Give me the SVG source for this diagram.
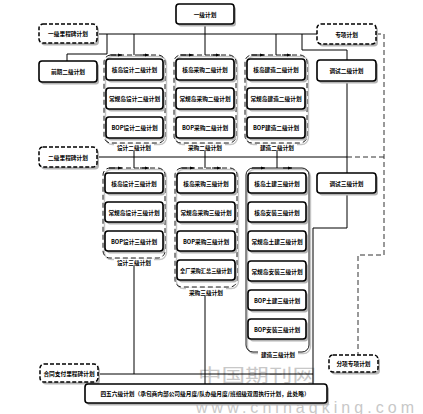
<svg xmlns="http://www.w3.org/2000/svg" width="423" height="414" viewBox="0 0 423 414">
<defs>
<style>
.sh{fill:#b4b4b4;stroke:none}
.box{fill:#fff;stroke:#000;stroke-width:1.6}
.dbox{fill:#fff;stroke:#000;stroke-width:1.5;stroke-dasharray:4 2}
.grp{fill:none;stroke:#000;stroke-width:0.9;stroke-dasharray:5 3}
.grpsh{fill:none;stroke:#c4c4c4;stroke-width:1.4}
.sgrp{fill:none;stroke:#000;stroke-width:0.9}
.ln{fill:none;stroke:#000;stroke-width:1}
.dln{fill:none;stroke:#333;stroke-width:1;stroke-dasharray:5 3}
text{font-family:"Noto Sans CJK SC","Noto Sans CJK JP",sans-serif;font-size:5.7px;font-weight:bold;fill:#000;text-anchor:middle;dominant-baseline:central}
.wm{font-weight:normal;fill:#c8c8c8;stroke:none;dominant-baseline:alphabetic;text-anchor:start}
</style>
<marker id="ar" viewBox="0 0 4 4" refX="4" refY="2" markerWidth="4" markerHeight="4" orient="auto" markerUnits="userSpaceOnUse">
<path d="M0,0.5 L4,2 L0,3.5 z" fill="#000"/>
</marker>
</defs>
<rect width="423" height="414" fill="#fff"/>

<!-- watermark -->
<g id="watermark">
<text class="wm" x="198" y="382" style="font-size:18px" textLength="118" lengthAdjust="spacingAndGlyphs">中国期刊网</text>
<text class="wm" x="196" y="412.5" style="font-family:'Liberation Sans',sans-serif;font-size:16px" textLength="218" lengthAdjust="spacing">www.chinaqking.com</text>
</g>

<!-- connectors -->
<g id="connectors">
<path class="ln" d="M97,34 H317"/>
<path class="ln" d="M205,24 V55"/>
<path class="ln" d="M134,34 V55"/>
<path class="ln" d="M276,34 V55"/>
<path class="ln" d="M107,34 V54 H67 V61"/>
<path class="ln" d="M302,34 V50 H347 V60"/>
<path class="dln" d="M376,34 H384 V255 H358 V355"/>
<path class="ln" d="M97,157 H347"/>
<path class="dln" d="M347,157 H384"/>
<path class="ln" d="M347,81 V173"/>
<path class="ln" d="M134,151 V168"/>
<path class="ln" d="M205,151 V168"/>
<path class="ln" d="M277,151 V168"/>
<path class="ln" d="M347,193 V228 H313 V384"/>
<path class="ln" d="M98,374 H313"/>
<path class="ln" d="M134,266 V374"/>
<path class="ln" d="M205,296 V384"/>
</g>

<!-- level 1 -->
<g id="n-l1">
<rect class="sh" x="178" y="6.5" width="58" height="20" rx="3"/>
<rect class="box" x="176" y="4" width="58" height="20" rx="3"/>
<text x="205" y="14">一级计划</text>
</g>
<g id="n-ms1">
<rect class="sh" x="41" y="26.5" width="58" height="19" rx="4"/>
<rect class="dbox" x="39" y="24" width="58" height="19" rx="4"/>
<text x="68" y="33.5">一级里程碑计划</text>
</g>
<g id="n-special">
<rect class="sh" x="319" y="26.5" width="59" height="20" rx="4"/>
<rect class="dbox" x="317" y="24" width="59" height="20" rx="4"/>
<text x="346.5" y="34">专项计划</text>
</g>
<g id="n-pre2">
<rect class="sh" x="41" y="63.5" width="58" height="21" rx="3"/>
<rect class="box" x="39" y="61" width="58" height="21" rx="3"/>
<text x="68" y="71.5">前期二级计划</text>
</g>
<g id="n-com2">
<rect class="sh" x="319" y="62.5" width="59" height="21" rx="3"/>
<rect class="box" x="317" y="60" width="59" height="21" rx="3"/>
<text x="346.5" y="70.5">调试二级计划</text>
</g>

<!-- level 2 groups -->
<g id="g-design2">
<rect class="grpsh" x="105.5" y="56.5" width="61" height="88" rx="7"/>
<rect class="grp" x="104" y="55" width="61" height="88" rx="7"/>
<path class="ln" d="M110,55 H122" marker-end="url(#ar)"/><path class="ln" d="M140,55 H149" marker-end="url(#ar)"/>
<rect class="sh" x="108" y="61.5" width="57" height="21" rx="3"/><rect class="box" x="106" y="59" width="57" height="21" rx="3"/><text x="134.5" y="69.5">核岛设计二级计划</text>
<rect class="sh" x="108" y="90.5" width="57" height="21" rx="3"/><rect class="box" x="106" y="88" width="57" height="21" rx="3"/><text x="134.5" y="98.5">常规岛设计二级计划</text>
<rect class="sh" x="108" y="119.5" width="57" height="21" rx="3"/><rect class="box" x="106" y="117" width="57" height="21" rx="3"/><text x="134.5" y="127.5">BOP设计二级计划</text>
<rect x="114" y="144" width="40" height="7" fill="#fff"/>
<text x="134" y="147.5">设计二级计划</text>
</g>
<g id="g-proc2">
<rect class="grpsh" x="175.5" y="56.5" width="62" height="88" rx="7"/>
<rect class="grp" x="174" y="55" width="62" height="88" rx="7"/>
<path class="ln" d="M180,55 H193" marker-end="url(#ar)"/><path class="ln" d="M211,55 H220" marker-end="url(#ar)"/>
<rect class="sh" x="178" y="61.5" width="58" height="21" rx="3"/><rect class="box" x="176" y="59" width="58" height="21" rx="3"/><text x="205" y="69.5">核岛采购二级计划</text>
<rect class="sh" x="178" y="90.5" width="58" height="21" rx="3"/><rect class="box" x="176" y="88" width="58" height="21" rx="3"/><text x="205" y="98.5">常规岛采购二级计划</text>
<rect class="sh" x="178" y="119.5" width="58" height="21" rx="3"/><rect class="box" x="176" y="117" width="58" height="21" rx="3"/><text x="205" y="127.5">BOP采购二级计划</text>
<rect x="185" y="144" width="40" height="7" fill="#fff"/>
<text x="205" y="147.5">采购二级计划</text>
</g>
<g id="g-cons2">
<rect class="grpsh" x="246.5" y="56.5" width="62" height="88" rx="7"/>
<rect class="grp" x="245" y="55" width="62" height="88" rx="7"/>
<path class="ln" d="M251,55 H264" marker-end="url(#ar)"/><path class="ln" d="M282,55 H291" marker-end="url(#ar)"/>
<rect class="sh" x="249" y="61.5" width="58" height="21" rx="3"/><rect class="box" x="247" y="59" width="58" height="21" rx="3"/><text x="276" y="69.5">核岛建造二级计划</text>
<rect class="sh" x="249" y="90.5" width="58" height="21" rx="3"/><rect class="box" x="247" y="88" width="58" height="21" rx="3"/><text x="276" y="98.5">常规岛建造二级计划</text>
<rect class="sh" x="249" y="119.5" width="58" height="21" rx="3"/><rect class="box" x="247" y="117" width="58" height="21" rx="3"/><text x="276" y="127.5">BOP建造二级计划</text>
<rect x="257" y="144" width="40" height="7" fill="#fff"/>
<text x="277" y="147.5">建造二级计划</text>
</g>

<g id="n-ms2">
<rect class="sh" x="41" y="149.5" width="58" height="20" rx="4"/>
<rect class="dbox" x="39" y="147" width="58" height="20" rx="4"/>
<text x="68" y="157">二级里程碑计划</text>
</g>
<g id="n-com3">
<rect class="sh" x="319" y="175.5" width="59" height="20" rx="3"/>
<rect class="box" x="317" y="173" width="59" height="20" rx="3"/>
<text x="346.5" y="183">调试三级计划</text>
</g>

<!-- level 3 groups -->
<g id="g-design3">
<rect class="grpsh" x="104.5" y="169.5" width="62" height="90" rx="7"/>
<rect class="grp" x="103" y="168" width="62" height="90" rx="7"/>
<path class="ln" d="M109,168 H122" marker-end="url(#ar)"/><path class="ln" d="M140,168 H149" marker-end="url(#ar)"/>
<rect class="sh" x="107" y="175.5" width="58" height="20" rx="3"/><rect class="box" x="105" y="173" width="58" height="20" rx="3"/><text x="134" y="183">核岛设计三级计划</text>
<rect class="sh" x="107" y="204.5" width="58" height="20" rx="3"/><rect class="box" x="105" y="202" width="58" height="20" rx="3"/><text x="134" y="212">常规岛设计三级计划</text>
<rect class="sh" x="107" y="233.5" width="58" height="20" rx="3"/><rect class="box" x="105" y="231" width="58" height="20" rx="3"/><text x="134" y="241">BOP设计三级计划</text>
<rect x="114" y="259" width="40" height="7" fill="#fff"/>
<text x="134" y="262.5">设计三级计划</text>
</g>
<g id="g-proc3">
<rect class="grpsh" x="176.5" y="169.5" width="62" height="119" rx="7"/>
<rect class="grp" x="175" y="168" width="62" height="119" rx="7"/>
<path class="ln" d="M181,168 H194" marker-end="url(#ar)"/><path class="ln" d="M212,168 H221" marker-end="url(#ar)"/>
<rect class="sh" x="179" y="175.5" width="58" height="20" rx="3"/><rect class="box" x="177" y="173" width="58" height="20" rx="3"/><text x="206" y="183">核岛采购三级计划</text>
<rect class="sh" x="179" y="204.5" width="58" height="20" rx="3"/><rect class="box" x="177" y="202" width="58" height="20" rx="3"/><text x="206" y="212">常规岛采购三级计划</text>
<rect class="sh" x="179" y="233.5" width="58" height="20" rx="3"/><rect class="box" x="177" y="231" width="58" height="20" rx="3"/><text x="206" y="241">BOP采购三级计划</text>
<rect class="sh" x="179" y="262.5" width="58" height="20" rx="3"/><rect class="box" x="177" y="260" width="58" height="20" rx="3"/><text x="206" y="270" style="font-size:5.2px">全厂采购汇总三级计划</text>
<rect x="186" y="288" width="40" height="7" fill="#fff"/>
<text x="206" y="292">采购三级计划</text>
</g>
<g id="g-cons3">
<rect class="grpsh" x="247.5" y="169.5" width="63" height="184" rx="7"/>
<rect class="sgrp" x="246" y="168" width="63" height="184" rx="7"/>
<path class="ln" d="M252,168 H265" marker-end="url(#ar)"/><path class="ln" d="M283,168 H292" marker-end="url(#ar)"/>
<rect class="sh" x="250" y="175.5" width="58" height="20" rx="3"/><rect class="box" x="248" y="173" width="58" height="20" rx="3"/><text x="277" y="183">核岛土建三级计划</text>
<rect class="sh" x="250" y="204.5" width="58" height="20" rx="3"/><rect class="box" x="248" y="202" width="58" height="20" rx="3"/><text x="277" y="212">核岛安装三级计划</text>
<rect class="sh" x="250" y="233.5" width="58" height="20" rx="3"/><rect class="box" x="248" y="231" width="58" height="20" rx="3"/><text x="277" y="241">常规岛土建三级计划</text>
<rect class="sh" x="250" y="263.5" width="58" height="20" rx="3"/><rect class="box" x="248" y="261" width="58" height="20" rx="3"/><text x="277" y="271">常规岛安装三级计划</text>
<rect class="sh" x="250" y="292.5" width="58" height="20" rx="3"/><rect class="box" x="248" y="290" width="58" height="20" rx="3"/><text x="277" y="300">BOP土建三级计划</text>
<rect class="sh" x="250" y="321.5" width="58" height="20" rx="3"/><rect class="box" x="248" y="319" width="58" height="20" rx="3"/><text x="277" y="329">BOP安装三级计划</text>
<rect x="258" y="351" width="40" height="7" fill="#fff"/>
<text x="278" y="354.5">建造三级计划</text>
</g>

<g id="n-ms-pay">
<rect class="sh" x="42" y="366.5" width="58" height="18" rx="4"/>
<rect class="dbox" x="40" y="364" width="58" height="18" rx="4"/>
<text x="69" y="373">合同支付里程碑计划</text>
</g>
<g id="n-sub-special">
<rect class="sh" x="331" y="357.5" width="49" height="17" rx="4"/>
<rect class="dbox" x="329" y="355" width="49" height="17" rx="4"/>
<text x="353.5" y="363.5">分项专项计划</text>
</g>
<g id="n-l456">
<rect class="sh" x="87" y="386.5" width="242" height="19" rx="3"/>
<rect class="box" x="85" y="384" width="242" height="19" rx="3"/>
<text x="205" y="393.5">四五六级计划（承包商内部公司级月度/队办级月度/班组级双周执行计划，此处略）</text>
</g>
</svg>
